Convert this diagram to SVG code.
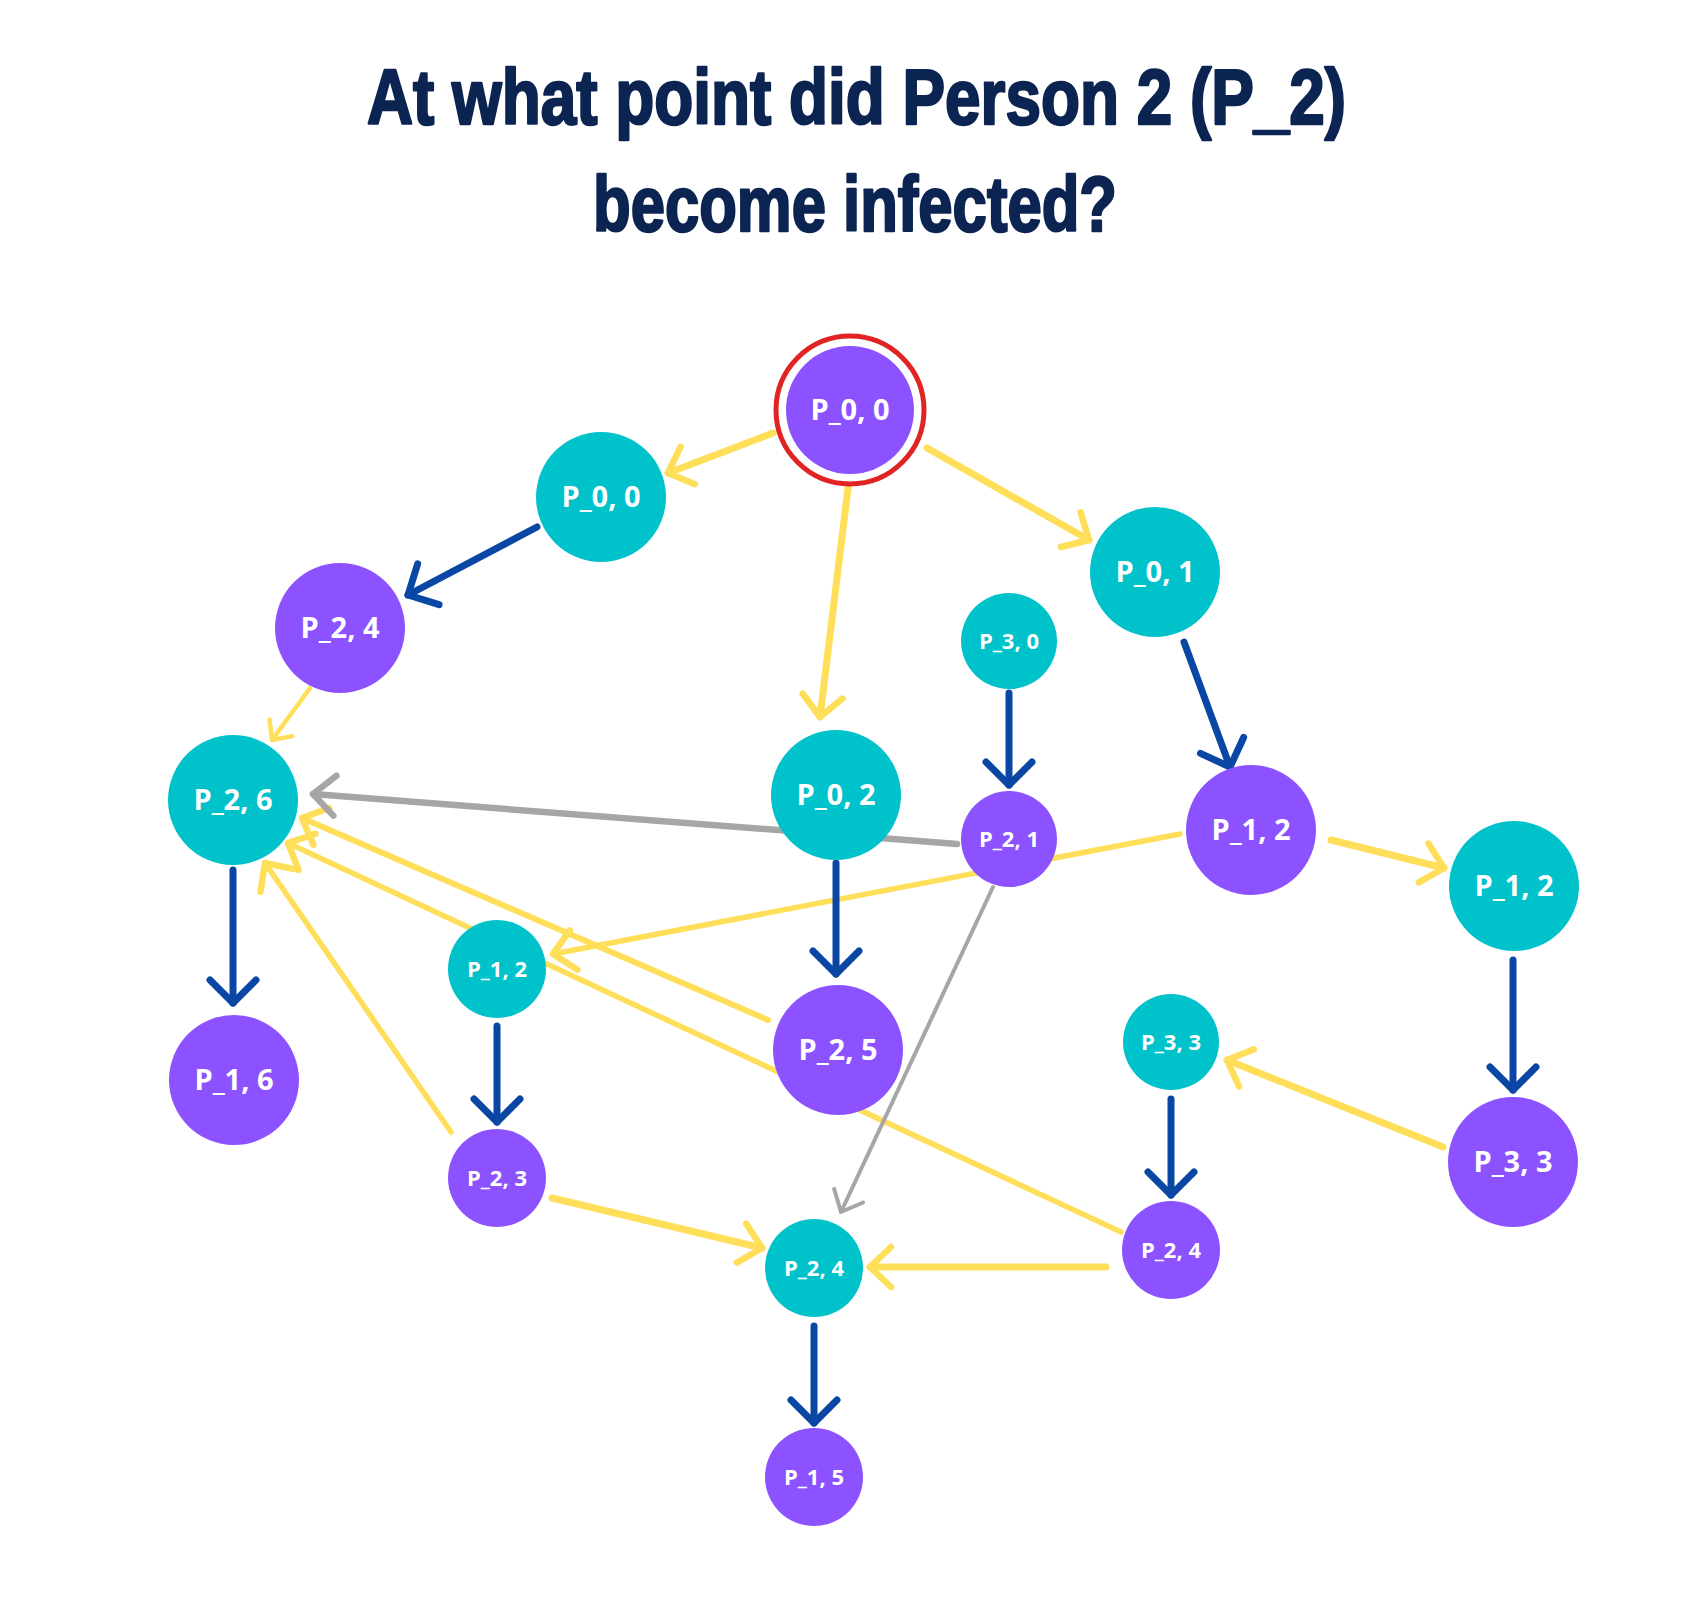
<svg xmlns="http://www.w3.org/2000/svg" width="1706" height="1619" viewBox="0 0 1706 1619">
<style>
.title{font-family:"Liberation Sans",Arial,sans-serif;font-weight:bold;font-size:78px;fill:#0c2451;stroke:#0c2451;stroke-width:2.5;stroke-linejoin:round;}
.purple{fill:#8c52ff;}
.teal{fill:#00c2cb;}
.lbl{font-family:"Open Sans","Liberation Sans",sans-serif;font-weight:bold;fill:#ffffff;text-anchor:middle;}
.big{font-size:29px;}
.small{font-size:22px;}
.e{fill:none;stroke-linecap:round;}
.y{stroke:#ffde59;stroke-width:7;marker-end:url(#ay);}
.yt{stroke:#ffde59;stroke-width:4.5;marker-end:url(#ayt);}
.b{stroke:#0a47a5;stroke-width:7;marker-end:url(#ab);}
.g{stroke:#a6a6a6;stroke-width:6.5;marker-end:url(#ag);}
.gt{stroke:#a6a6a6;stroke-width:4;marker-end:url(#agt);}
</style>
<defs>
<marker id="ab" markerUnits="userSpaceOnUse" orient="auto" refX="0" refY="0" markerWidth="10" markerHeight="10" overflow="visible"><path d="M-23,-23 L0,0 L-23,23" fill="none" stroke="#0a47a5" stroke-width="7" stroke-linecap="round" stroke-linejoin="round"/></marker>
<marker id="ay" markerUnits="userSpaceOnUse" orient="auto" refX="0" refY="0" markerWidth="10" markerHeight="10" overflow="visible"><path d="M-21,-20 L0,0 L-21,20" fill="none" stroke="#ffde59" stroke-width="6.5" stroke-linecap="round" stroke-linejoin="round"/></marker>
<marker id="ayt" markerUnits="userSpaceOnUse" orient="auto" refX="0" refY="0" markerWidth="10" markerHeight="10" overflow="visible"><path d="M-15,-14 L0,0 L-15,14" fill="none" stroke="#ffde59" stroke-width="4.5" stroke-linecap="round" stroke-linejoin="round"/></marker>
<marker id="ag" markerUnits="userSpaceOnUse" orient="auto" refX="0" refY="0" markerWidth="10" markerHeight="10" overflow="visible"><path d="M-22,-20 L0,0 L-22,20" fill="none" stroke="#a6a6a6" stroke-width="6.5" stroke-linecap="round" stroke-linejoin="round"/></marker>
<marker id="agt" markerUnits="userSpaceOnUse" orient="auto" refX="0" refY="0" markerWidth="10" markerHeight="10" overflow="visible"><path d="M-18,-16 L0,0 L-18,16" fill="none" stroke="#a6a6a6" stroke-width="4" stroke-linecap="round" stroke-linejoin="round"/></marker>
</defs>
<rect width="1706" height="1619" fill="#ffffff"/>
<g id="title">
<text class="title" x="367" y="124" textLength="979" lengthAdjust="spacingAndGlyphs">At what point did Person 2 (P_2)</text>
<text class="title" x="593" y="231" textLength="524" lengthAdjust="spacingAndGlyphs">become infected?</text>
</g>
<g id="connectors">
<path class="e y" d="M773,433 L668,473"/>
<path class="e y" d="M927,448 L1089,540"/>
<path class="e y" d="M848,488 L820,717"/>
<path class="e yt" d="M310,688 L272,740"/>
<path class="e y" d="M1331,840 L1444,868"/>
<path class="e y" style="stroke-width:5.5" d="M1180,834 L553,954"/>
<path class="e y" d="M1443,1147 L1227,1060"/>
<path class="e y" d="M1106,1267 L870,1267"/>
<path class="e y" d="M552,1198 L762,1248"/>
<path class="e y" style="stroke-width:5.5" d="M451,1132 L265,863"/>
<path class="e y" style="stroke-width:6" d="M768,1020 L302,818"/>
<path class="e y" style="stroke-width:5.5" d="M1121,1232 L288,843"/>
<path class="e b" d="M537,527 L408,595"/>
<path class="e b" d="M1184,642 L1230,767"/>
<path class="e b" d="M1009,693 L1009,785"/>
<path class="e b" d="M836,863 L836,974"/>
<path class="e b" d="M233,870 L233,1003"/>
<path class="e b" d="M497,1026 L497,1122"/>
<path class="e b" d="M1513,960 L1513,1090"/>
<path class="e b" d="M1171,1099 L1171,1195"/>
<path class="e b" d="M814,1326 L814,1423"/>
<path class="e g" d="M957,844 L313,794"/>
<path class="e gt" d="M993,887 L841,1212"/>
</g>
<g id="n1"><circle cx="850" cy="410" r="74" fill="none" stroke="#e02424" stroke-width="5"/><circle class="purple" cx="850" cy="410" r="64"/><text class="lbl big" x="850" y="420">P_0, 0</text></g>
<g id="n2"><circle class="teal" cx="601" cy="497" r="65"/><text class="lbl big" x="601" y="507">P_0, 0</text></g>
<g id="n3"><circle class="teal" cx="1155" cy="572" r="65"/><text class="lbl big" x="1155" y="582">P_0, 1</text></g>
<g id="n4"><circle class="purple" cx="340" cy="628" r="65"/><text class="lbl big" x="340" y="638">P_2, 4</text></g>
<g id="n5"><circle class="teal" cx="1009" cy="641" r="48"/><text class="lbl small" x="1009" y="649">P_3, 0</text></g>
<g id="n6"><circle class="teal" cx="233" cy="800" r="65"/><text class="lbl big" x="233" y="810">P_2, 6</text></g>
<g id="n7"><circle class="teal" cx="836" cy="795" r="65"/><text class="lbl big" x="836" y="805">P_0, 2</text></g>
<g id="n8"><circle class="purple" cx="1009" cy="839" r="48"/><text class="lbl small" x="1009" y="847">P_2, 1</text></g>
<g id="n9"><circle class="purple" cx="1251" cy="830" r="65"/><text class="lbl big" x="1251" y="840">P_1, 2</text></g>
<g id="n10"><circle class="teal" cx="1514" cy="886" r="65"/><text class="lbl big" x="1514" y="896">P_1, 2</text></g>
<g id="n11"><circle class="teal" cx="497" cy="969" r="49"/><text class="lbl small" x="497" y="977">P_1, 2</text></g>
<g id="n12"><circle class="purple" cx="838" cy="1050" r="65"/><text class="lbl big" x="838" y="1060">P_2, 5</text></g>
<g id="n13"><circle class="purple" cx="234" cy="1080" r="65"/><text class="lbl big" x="234" y="1090">P_1, 6</text></g>
<g id="n14"><circle class="teal" cx="1171" cy="1042" r="48"/><text class="lbl small" x="1171" y="1050">P_3, 3</text></g>
<g id="n15"><circle class="purple" cx="1513" cy="1162" r="65"/><text class="lbl big" x="1513" y="1172">P_3, 3</text></g>
<g id="n16"><circle class="purple" cx="497" cy="1178" r="49"/><text class="lbl small" x="497" y="1186">P_2, 3</text></g>
<g id="n17"><circle class="teal" cx="814" cy="1268" r="49"/><text class="lbl small" x="814" y="1276">P_2, 4</text></g>
<g id="n18"><circle class="purple" cx="1171" cy="1250" r="49"/><text class="lbl small" x="1171" y="1258">P_2, 4</text></g>
<g id="n19"><circle class="purple" cx="814" cy="1477" r="49"/><text class="lbl small" x="814" y="1485">P_1, 5</text></g>
</svg>
